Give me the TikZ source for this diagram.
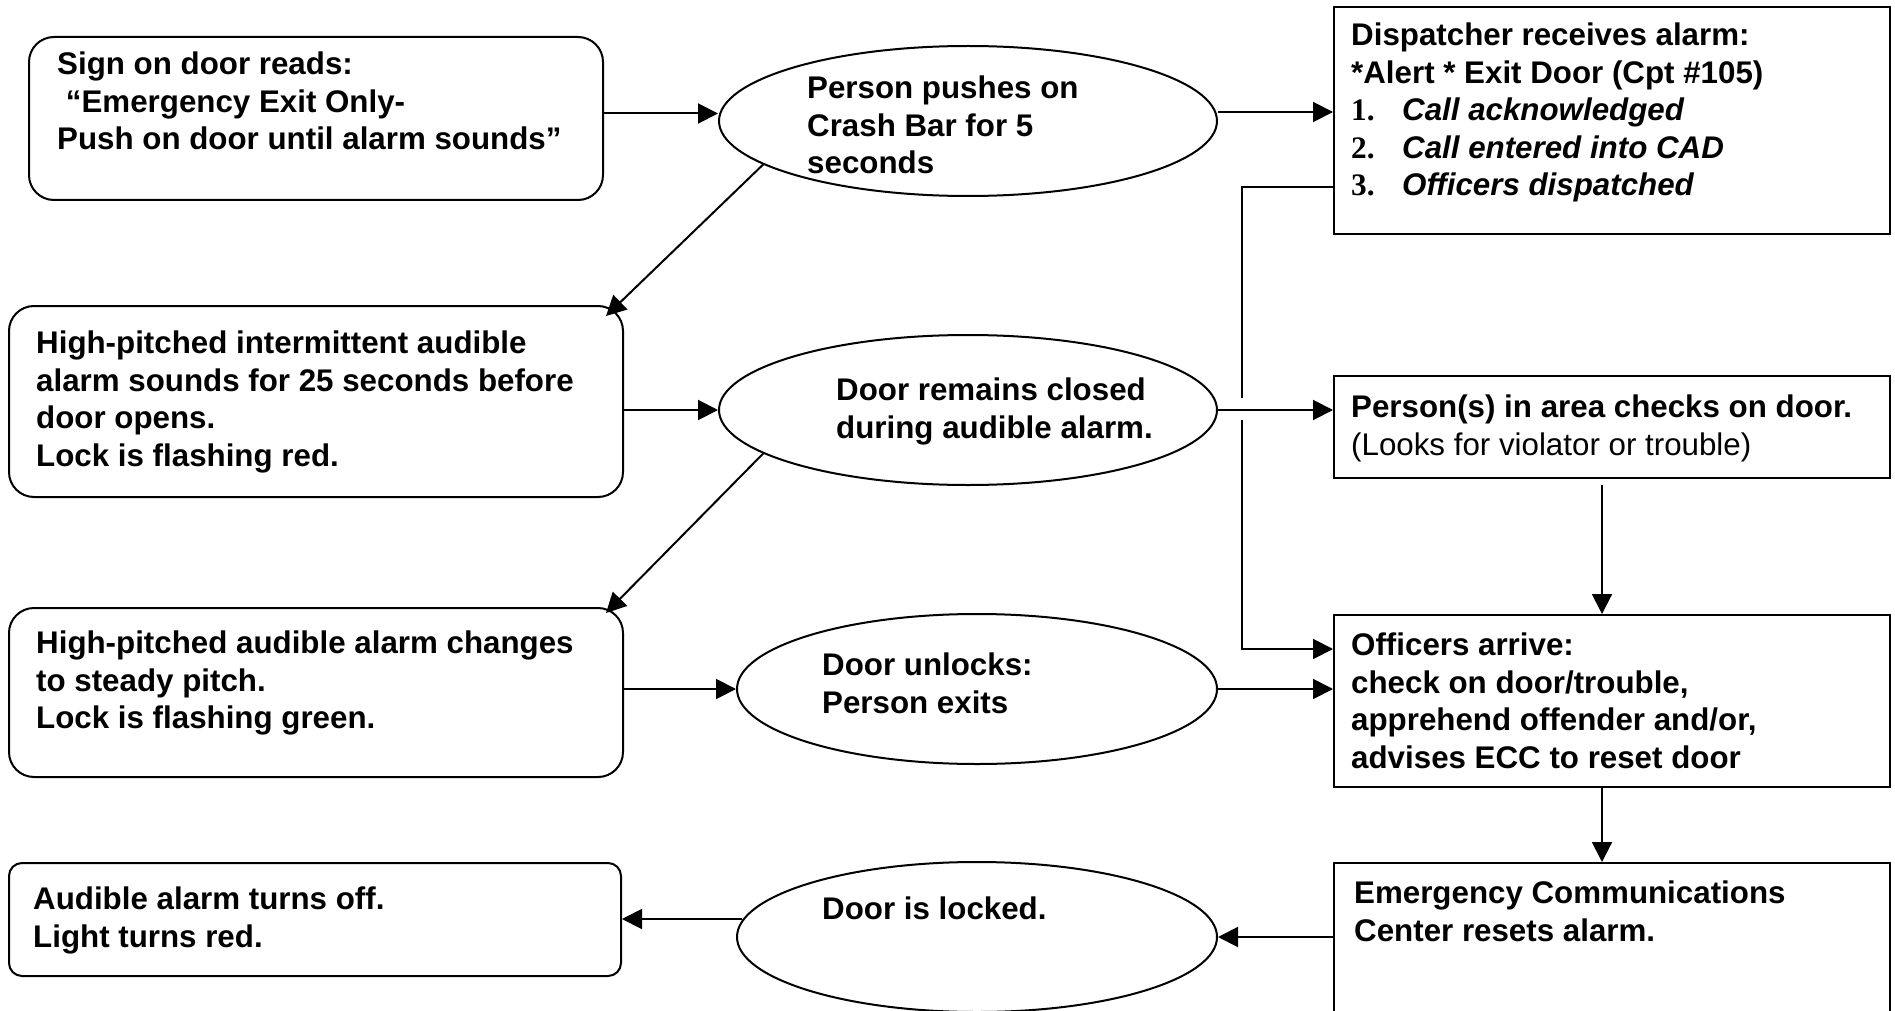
\documentclass[tikz,border=0pt]{standalone}
\usepackage{fontspec}
\setmainfont{Liberation Sans}
\newfontfamily\numfont{Liberation Serif}
\usetikzlibrary{shapes.geometric,arrows.meta,calc}
\begin{document}
\begin{tikzpicture}[x=1pt,y=-1pt,
  rbox/.style={draw, line width=2pt, rounded corners=25pt, anchor=north west, inner sep=0pt},
  sbox/.style={draw, line width=2pt, anchor=north west, inner sep=0pt},
  ell/.style={draw, ellipse, line width=2pt, inner sep=0pt, minimum width=498pt, minimum height=150pt},
  txt/.style={anchor=north west, inner sep=0pt, align=left, font=\fontsize{31.3}{37.5}\selectfont\bfseries},
  arr/.style={-{Triangle[length=20pt,width=20pt]}, line width=2pt},
  ln/.style={line width=2pt}]
\clip (0,0) rectangle (1895,1011);
\fill[white] (0,0) rectangle (1895,1011);
% shapes
\node[rbox, minimum width=574pt, minimum height=163pt] (b1) at (28,36) {};
\node[rbox, minimum width=614pt, minimum height=191pt] (b2) at (8,305) {};
\node[rbox, minimum width=614pt, minimum height=169pt] (b3) at (8,607) {};
\node[rbox, rounded corners=13pt, minimum width=612pt, minimum height=113pt] (b4) at (8,862) {};
\node[ell] (e1) at (968,121) {};
\node[ell] (e2) at (968,410) {};
\node[ell, minimum width=480pt] (e3) at (977,689) {};
\node[ell, minimum width=480pt] (e4) at (977,937) {};
\node[sbox, minimum width=556pt, minimum height=227pt] (r1) at (1333,6) {};
\node[sbox, minimum width=556pt, minimum height=102pt] (r2) at (1333,375) {};
\node[sbox, minimum width=556pt, minimum height=172pt] (r3) at (1333,614) {};
\node[sbox, minimum width=556pt, minimum height=170pt] (r4) at (1333,862) {};
% texts
\node[txt] (t1) at (57,52) {Sign on door reads:\\\hspace{0.28em}“Emergency Exit Only-\\Push on door until alarm sounds”};
\node[txt] (te1) at (807,76) {Person pushes on\\Crash Bar for 5\\seconds};
\node[txt] (tr1) at (1351,23) {Dispatcher receives alarm:\\*Alert * Exit Door (Cpt \#105)\\
  \makebox[51pt][l]{\numfont\bfseries 1.}\textit{Call acknowledged}\\
  \makebox[51pt][l]{\numfont\bfseries 2.}\textit{Call entered into CAD}\\
  \makebox[51pt][l]{\numfont\bfseries 3.}\textit{Officers dispatched}};
\node[txt] (t2) at (36,331) {High-pitched intermittent audible\\alarm sounds for 25 seconds before\\door opens.\\Lock is flashing red.};
\node[txt] (te2) at (836,378) {Door remains closed\\during audible alarm.};
\node[txt] (tr2) at (1351,395) {Person(s) in area checks on door.\\{\mdseries (Looks for violator or trouble)}};
\node[txt] (t3) at (36,631) {High-pitched audible alarm changes\\to steady pitch.\\Lock is flashing green.};
\node[txt] (te3) at (822,653) {Door unlocks:\\Person exits};
\node[txt] (tr3) at (1351,633) {Officers arrive:\\check on door/trouble,\\apprehend offender and/or,\\advises ECC to reset door};
\node[txt] (t4) at (33,887) {Audible alarm turns off.\\Light turns red.};
\node[txt] (te4) at (822,897) {Door is locked.};
\node[txt] (tr4) at (1354,881) {Emergency Communications\\Center resets alarm.};
% connectors
\draw[arr] ([yshift=5pt]b1.east) -- ([yshift=5pt]b1.east -| e1.west);
\draw[arr] ([yshift=9pt]e1.east) -- ([yshift=9pt]e1.east -| r1.west);
\coordinate (k1) at (1242,187);
\coordinate (k2) at (1242,649);
\draw[arr] (r1.west |- k1) -- (k1) -- (k2) -- (k2 -| r3.west);
\draw[white, line width=6pt] (1242,398) -- (1242,420);
\draw[arr] (e1.192) -- ([xshift=-18pt,yshift=-11pt]b2.north east);
\draw[arr] (b2.east |- e2.west) -- (e2.west);
\draw[arr] (e2.east) -- (e2.east -| r2.west);
\draw[arr] (e2.192) -- ([xshift=-18pt,yshift=-6pt]b3.north east);
\draw[arr] (b3.east |- e3.west) -- (e3.west);
\draw[arr] (e3.east) -- (e3.east -| r3.west);
\draw[arr] ([xshift=-10pt,yshift=-6pt]r2.south) -- ([xshift=-10pt]r3.north);
\draw[arr] ([xshift=-10pt]r3.south) -- ([xshift=-10pt]r4.north);
\draw[arr] (r4.west |- e4.east) -- (e4.east);
\draw[arr] ([xshift=6pt,yshift=18pt]e4.west) -- ([yshift=18pt]e4.west -| b4.east);
\end{tikzpicture}
\end{document}
